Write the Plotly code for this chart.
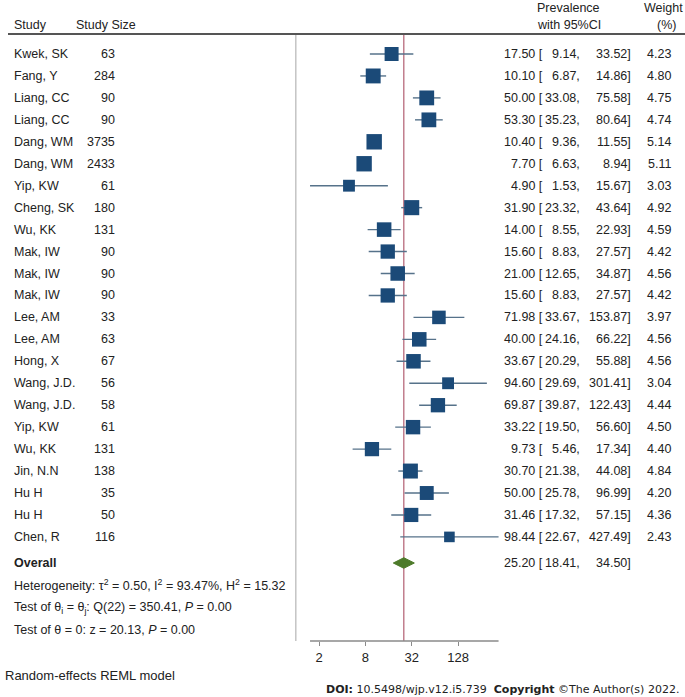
"""
Forest plot: pooled prevalence (random-effects REML) with 95% CI.

Everything is placed on a 685x697 canvas with zero margins so text
columns can be positioned in paper space, while markers, CI lines and
reference lines go through the log x axis and the row-index y axis.
"""

import math
import plotly.graph_objects as go

W, H = 685, 697

studies = ["Kwek, SK", "Fang, Y", "Liang, CC", "Liang, CC", "Dang, WM", "Dang, WM",
           "Yip, KW", "Cheng, SK", "Wu, KK", "Mak, IW", "Mak, IW", "Mak, IW",
           "Lee, AM", "Lee, AM", "Hong, X", "Wang, J.D.", "Wang, J.D.", "Yip, KW",
           "Wu, KK", "Jin, N.N", "Hu H", "Hu H", "Chen, R"]
study_sizes = [63, 284, 90, 90, 3735, 2433, 61, 180, 131, 90, 90, 90,
               33, 63, 67, 56, 58, 61, 131, 138, 35, 50, 116]
prevalence = [17.50, 10.10, 50.00, 53.30, 10.40, 7.70, 4.90, 31.90, 14.00, 15.60, 21.00, 15.60,
              71.98, 40.00, 33.67, 94.60, 69.87, 33.22, 9.73, 30.70, 50.00, 31.46, 98.44]
ci_low = [9.14, 6.87, 33.08, 35.23, 9.36, 6.63, 1.53, 23.32, 8.55, 8.83, 12.65, 8.83,
          33.67, 24.16, 20.29, 29.69, 39.87, 19.50, 5.46, 21.38, 25.78, 17.32, 22.67]
ci_high = [33.52, 14.86, 75.58, 80.64, 11.55, 8.94, 15.67, 43.64, 22.93, 27.57, 34.87, 27.57,
           153.87, 66.22, 55.88, 301.41, 122.43, 56.60, 17.34, 44.08, 96.99, 57.15, 427.49]
weights = [4.23, 4.80, 4.75, 4.74, 5.14, 5.11, 3.03, 4.92, 4.59, 4.42, 4.56, 4.42,
           3.97, 4.56, 4.56, 3.04, 4.44, 4.50, 4.40, 4.84, 4.20, 4.36, 2.43]

overall = 25.20
overall_low = 18.41
overall_high = 34.50

tick_vals = [2, 8, 32, 128]
tick_text = ["2", "8", "32", "128"]

FONT = "Liberation Sans, Arial, sans-serif"
TXT = "#222222"
FS = 12.5

ROW0_PX, ROW_STEP = 54, 21.95     # y of first study row, row spacing
AXIS_PX = 641                      # y of the x axis line
HEADER_LINE_PX = 34
X2_PX, PX_PER_DOUBLING = 319, 23.2  # x pixel of tick "2", px per doubling


def px(x):
    return x / W


def py(y):
    return 1 - y / H


def row_of(y_px):
    return 1 + (y_px - ROW0_PX) / ROW_STEP


def text(fig, x, y, s, anchor="left", size=FS, bold=False, family=FONT, yref="paper"):
    if bold:
        s = f"<b>{s}</b>"
    fig.add_annotation(x=px(x), y=y, xref="paper", yref=yref, text=s, showarrow=False,
                       xanchor=anchor, yanchor="middle",
                       font=dict(family=family, size=size, color=TXT))


def build_forest_plot():
    n = len(studies)
    rows = list(range(1, n + 1))
    fig = go.Figure()

    # CI whiskers
    xs, ys = [], []
    for r, a, b in zip(rows, ci_low, ci_high):
        xs += [a, b, None]
        ys += [r, r, None]
    fig.add_trace(go.Scatter(x=xs, y=ys, mode="lines",
                             line=dict(color="#56728a", width=1.4),
                             hoverinfo="skip", showlegend=False))

    # weighted squares
    fig.add_trace(go.Scatter(
        x=prevalence, y=rows, mode="markers",
        marker=dict(symbol="square", color="#1b4a78", opacity=1,
                    size=[6.8 * math.sqrt(w) for w in weights], line=dict(width=0)),
        showlegend=False,
    ))

    # overall diamond
    r_ov = row_of(563)
    hh = 0.24
    fig.add_trace(go.Scatter(
        x=[overall_low, overall, overall_high, overall, overall_low],
        y=[r_ov, r_ov - hh, r_ov, r_ov + hh, r_ov],
        mode="lines", fill="toself", fillcolor="#4d7a2a",
        line=dict(color="#4d7a2a", width=1), showlegend=False,
    ))

    # reference lines: null (1) and overall estimate
    fig.add_shape(type="line", xref="x", yref="paper", x0=1, x1=1,
                  y0=py(AXIS_PX), y1=py(HEADER_LINE_PX),
                  line=dict(color="#c4c4c4", width=1.5), layer="below")
    fig.add_shape(type="line", xref="x", yref="paper", x0=overall, x1=overall,
                  y0=py(AXIS_PX), y1=py(HEADER_LINE_PX),
                  line=dict(color="#b86a7c", width=1.3), layer="below")
    # x axis line over the data span
    fig.add_shape(type="line", xref="x", yref="paper", x0=min(ci_low), x1=max(ci_high),
                  y0=py(AXIS_PX), y1=py(AXIS_PX),
                  line=dict(color="#8a8a8a", width=1.6))
    # header rule
    fig.add_shape(type="line", xref="paper", yref="paper", x0=px(8), x1=1,
                  y0=py(HEADER_LINE_PX), y1=py(HEADER_LINE_PX),
                  line=dict(color="#555555", width=1.8))

    # headers
    text(fig, 12, py(25), "Study")
    text(fig, 74, py(25), "Study Size")
    text(fig, 568, py(8), "Prevalence", anchor="center")
    text(fig, 569, py(25), "with 95%CI", anchor="center")
    text(fig, 663, py(8), "Weight", anchor="center")
    text(fig, 666, py(25), "(%)", anchor="center")

    # study rows
    for r, name, size, est, a, b, w in zip(rows, studies, study_sizes, prevalence,
                                           ci_low, ci_high, weights):
        text(fig, 12, r, name, yref="y")
        text(fig, 117, r, str(size), anchor="right", yref="y")
        text(fig, 545, r, f"{est:.2f} [", anchor="right", yref="y")
        text(fig, 582, r, f"{a:.2f},", anchor="right", yref="y")
        text(fig, 633, r, f"{b:.2f}]", anchor="right", yref="y")
        text(fig, 673, r, f"{w:.2f}", anchor="right", yref="y")

    text(fig, 12, r_ov, "Overall", bold=True, yref="y")
    text(fig, 545, r_ov, f"{overall:.2f} [", anchor="right", yref="y")
    text(fig, 582, r_ov, f"{overall_low:.2f},", anchor="right", yref="y")
    text(fig, 633, r_ov, f"{overall_high:.2f}]", anchor="right", yref="y")

    text(fig, 12, py(585), "Heterogeneity: τ<sup>2</sup> = 0.50, I<sup>2</sup> = 93.47%, "
                           "H<sup>2</sup> = 15.32")
    text(fig, 12, py(608), "Test of θ<sub>i</sub> = θ<sub>j</sub>: Q(22) = 350.41, "
                           "<i>P</i> = 0.00")
    text(fig, 12, py(630), "Test of θ = 0: z = 20.13, <i>P</i> = 0.00")

    text(fig, 3, py(675), "Random-effects REML model", size=13)
    text(fig, 681, py(689), "<b>DOI:</b> 10.5498/wjp.v12.i5.739  <b>Copyright</b> "
                            "©The Author(s) 2022.", anchor="right", size=11,
         family="DejaVu Sans, Verdana, sans-serif")

    # axes: map pixels to data through the axis ranges
    l2_left = 1 - X2_PX / PX_PER_DOUBLING
    l2_right = 1 + (W - X2_PX) / PX_PER_DOUBLING
    log10_2 = math.log10(2)
    y_dom0 = (H - AXIS_PX) / H

    fig.update_layout(
        width=W, height=H, autosize=False,
        margin=dict(l=0, r=0, t=0, b=0, pad=0),
        paper_bgcolor="white", plot_bgcolor="white",
        xaxis=dict(type="log", domain=[0, 1],
                   range=[l2_left * log10_2, l2_right * log10_2],
                   tickvals=tick_vals, ticktext=tick_text,
                   ticks="outside", ticklen=4, tickwidth=1, tickcolor="#8a8a8a",
                   showline=False, showgrid=False, zeroline=False,
                   tickfont=dict(family=FONT, size=13, color=TXT)),
        yaxis=dict(domain=[y_dom0, 1],
                   range=[row_of(AXIS_PX), row_of(0)],
                   visible=False, showgrid=False, zeroline=False),
        showlegend=False,
    )
    return fig


fig = build_forest_plot()
# the page's default 8px body margin would push the 685x697 figure off-screen
fig.write_html("out.html", config={"displayModeBar": False},
               post_script="document.body.style.margin='0';")
